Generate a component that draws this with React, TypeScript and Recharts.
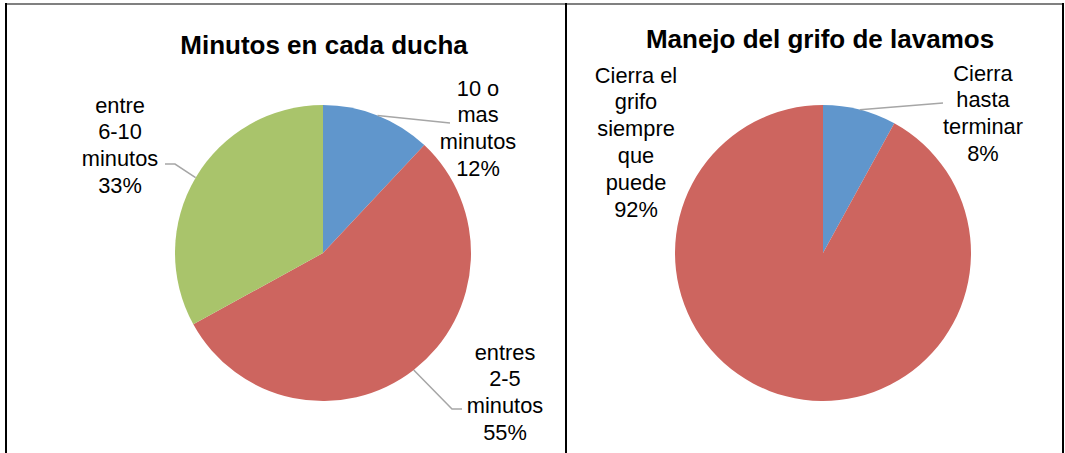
import React from "react";
import { PieChart, Pie, Cell } from "recharts";

// Minutos en cada ducha
const duchaLabels = [
  ["10 o", "mas", "minutos"],
  ["entres", "2-5", "minutos"],
  ["entre", "6-10", "minutos"],
];
const duchaValues = [12, 55, 33];
const duchaColors = ["#6096CC", "#CD655F", "#A9C46B"];

// Manejo del grifo de lavamos
const grifoLabels = [
  ["Cierra", "hasta", "terminar"],
  ["Cierra el", "grifo", "siempre", "que", "puede"],
];
const grifoValues = [8, 92];
const grifoColors = ["#6096CC", "#CD655F"];

const duchaData = duchaValues.map((v, i) => ({ name: duchaLabels[i].join(" "), value: v, lines: duchaLabels[i] }));
const grifoData = grifoValues.map((v, i) => ({ name: grifoLabels[i].join(" "), value: v, lines: grifoLabels[i] }));

// label placement relative to the pie centre (text centre x, first line centre y),
// plus optional elbow of the leader line and where it ends
const duchaPlace = [
  { dx: 155, dy: -165, end: [127, -130] },
  { dx: 182, dy: 99, elbow: [129, 156], end: [139, 156] },
  { dx: -203, dy: -148, elbow: [-148, -89], end: [-158, -89] },
];
const grifoPlace = [
  { dx: 160, dy: -180, end: [120, -150] },
  { dx: -187, dy: -178 },
];

const RAD = Math.PI / 180;
const LINE_H = 26.8;
const FONT = "'Liberation Sans', Arial, sans-serif";

const makeLabel = (place) => (props) => {
  const { cx, cy, midAngle, outerRadius, index, payload, value } = props;
  const p = place[index];
  const lines = [...(payload.lines || []), `${value}%`];
  const sx = cx + outerRadius * Math.cos(-midAngle * RAD);
  const sy = cy + outerRadius * Math.sin(-midAngle * RAD);
  let pts = null;
  if (p.end) {
    pts = [[sx, sy]];
    if (p.elbow) pts.push([cx + p.elbow[0], cy + p.elbow[1]]);
    pts.push([cx + p.end[0], cy + p.end[1]]);
  }
  return (
    <g key={`lbl-${index}`}>
      {pts && (
        <polyline
          points={pts.map((q) => q.join(",")).join(" ")}
          fill="none"
          stroke="#A6A6A6"
          strokeWidth={1.5}
        />
      )}
      {lines.map((t, i) => (
        <text
          key={i}
          x={cx + p.dx}
          y={cy + p.dy + i * LINE_H}
          textAnchor="middle"
          dominantBaseline="central"
          fontFamily={FONT}
          fontSize={21.8}
          fill="#000"
        >
          {t}
        </text>
      ))}
    </g>
  );
};

const line = (style) => <div style={{ position: "absolute", ...style }} />;

export default function App() {
  return (
    <div style={{ position: "absolute", left: 0, top: 0, width: 1065, height: 453, background: "#fff" }}>
      <PieChart
        width={1065}
        height={453}
        margin={{ top: 0, right: 0, bottom: 0, left: 0 }}
        style={{ position: "absolute", left: 0, top: 0 }}
      >
        <text x={324} y={45} textAnchor="middle" dominantBaseline="central" fontFamily={FONT} fontWeight="bold" fontSize={26}>
          Minutos en cada ducha
        </text>
        <text x={820} y={39} textAnchor="middle" dominantBaseline="central" fontFamily={FONT} fontWeight="bold" fontSize={26}>
          Manejo del grifo de lavamos
        </text>
        <Pie
          data={duchaData}
          dataKey="value"
          nameKey="name"
          cx={323}
          cy={253}
          outerRadius={148}
          startAngle={90}
          endAngle={-270}
          stroke="none"
          labelLine={false}
          label={makeLabel(duchaPlace)}
          isAnimationActive={false}
        >
          {duchaData.map((d, i) => (
            <Cell key={d.name} fill={duchaColors[i]} />
          ))}
        </Pie>
        <Pie
          data={grifoData}
          dataKey="value"
          nameKey="name"
          cx={823}
          cy={253}
          outerRadius={148}
          startAngle={90}
          endAngle={-270}
          stroke="none"
          labelLine={false}
          label={makeLabel(grifoPlace)}
          isAnimationActive={false}
        >
          {grifoData.map((d, i) => (
            <Cell key={d.name} fill={grifoColors[i]} />
          ))}
        </Pie>
      </PieChart>
      {line({ left: 5, top: 3, width: 1059, height: 2, background: "#808080" })}
      {line({ left: 5, top: 3, width: 2, height: 450, background: "#000" })}
      {line({ left: 565, top: 3, width: 2, height: 450, background: "#000" })}
      {line({ left: 1062, top: 3, width: 2, height: 450, background: "#000" })}
    </div>
  );
}
